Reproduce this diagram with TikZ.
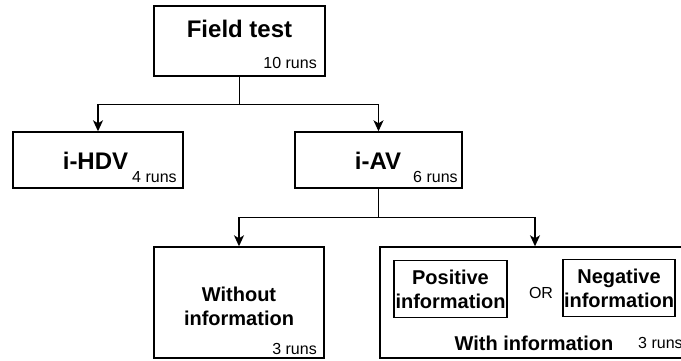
\documentclass[tikz,border=0pt]{standalone}
\usepackage{fontspec}
\setmainfont{Liberation Sans}
\usetikzlibrary{arrows.meta,positioning}

\tikzset{
  box/.style n args={2}{draw, line width=1.4pt, inner sep=0pt,
    minimum width=#1, minimum height=#2},
  title/.style={font=\bfseries\fontsize{24}{28}\selectfont, inner sep=0pt},
  info/.style={font=\bfseries\fontsize{20}{24}\selectfont, align=center, inner sep=0pt},
  runs/.style={font=\fontsize{16}{19}\selectfont, inner sep=0pt},
  wire/.style={line width=1.4pt},
  link/.style={wire, -{Stealth[length=11pt,width=10pt,inset=3pt]}}
}

\begin{document}
\begin{tikzpicture}[x=1pt, y=-1pt]
  \useasboundingbox (0,0) rectangle (681,361);
  \clip (0,0) rectangle (681,361);

  % top level
  \node[box={171pt}{70pt}] (field) at (239.5,41) {};
  \node[title] (fieldtitle) at (239.5,29) {Field test};
  \node[runs, anchor=east] (fieldruns) at (317,63) {10 runs};

  % second level
  \node[box={170pt}{56pt}] (hdv) at (98,160) {};
  \node[title] (hdvtitle) at (95.5,161) {i-HDV};
  \node[runs, anchor=west] (hdvruns) at (132,177) {4 runs};

  \node[box={167pt}{56pt}] (iav) at (378.5,160) {};
  \node[title] (iavtitle) at (378,161) {i-AV};
  \node[runs, anchor=west] (iavruns) at (413,177) {6 runs};

  % third level
  \node[box={170pt}{111pt}] (noinfo) at (239,302.5) {};
  \node[info] (noinfotitle) at (239,306) {Without\\information};
  \node[runs, anchor=east] (noinforuns) at (317,349) {3 runs};

  \node[box={310pt}{111pt}] (withinfo) at (535,302.5) {};
  \node[box={113pt}{57pt}, info] (pos) at (450.5,289) {Positive\\information};
  \node[box={112pt}{57pt}, info] (neg) at (619,288) {Negative\\information};
  \node[runs] (or) at (541,293) {OR};
  \node[info] (withinfotitle) at (534,343) {With information};
  \node[runs, anchor=west] (withinforuns) at (638,343) {3 runs};

  % connectors
  \coordinate (fork1) at ([yshift=-28pt]field.south);
  \draw[wire] (field.south) -- (fork1);
  \draw[link] (fork1) -| (hdv.north);
  \draw[link] (fork1) -| (iav.north);

  \coordinate (fork2) at ([yshift=-29pt]iav.south);
  \draw[wire] (iav.south) -- (fork2);
  \draw[link] (fork2) -| (noinfo.north);
  \draw[link] (fork2) -| (withinfo.north);
\end{tikzpicture}
\end{document}
